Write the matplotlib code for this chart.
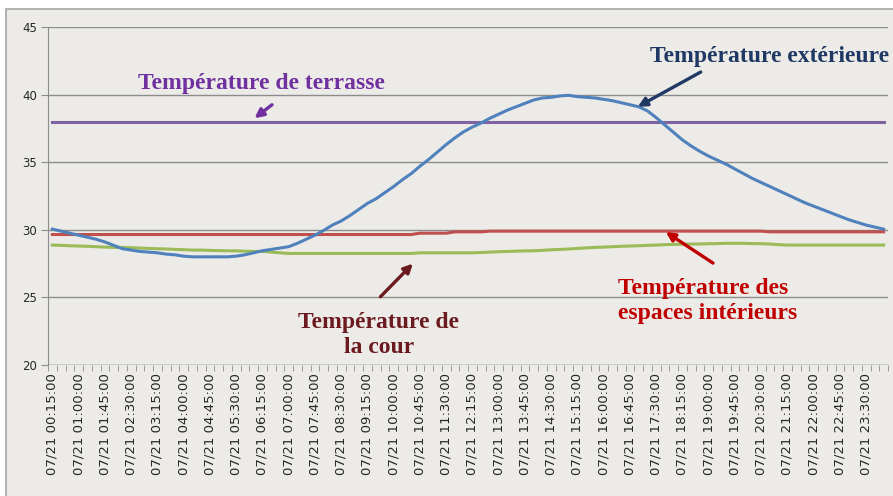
import numpy as np
import matplotlib.pyplot as plt
from matplotlib.patches import Rectangle

# 15-minute readings for 07/21, 00:15 -> 24:00
times = ["07/21 %02d:%02d:00" % divmod(15 * (k + 1), 60) for k in range(96)]

t_exterieure = [30.05, 29.9, 29.75, 29.6, 29.45, 29.3, 29.1, 28.85, 28.6, 28.5,
                28.4, 28.35, 28.3, 28.2, 28.15, 28.05, 28.0, 28.0, 28.0, 28.0,
                28.0, 28.05, 28.15, 28.3, 28.45, 28.55, 28.65, 28.75, 29.0, 29.3,
                29.6, 29.95, 30.35, 30.65, 31.05, 31.5, 31.95, 32.3, 32.75, 33.2,
                33.7, 34.15, 34.7, 35.2, 35.75, 36.3, 36.8, 37.25, 37.6, 37.9,
                38.25, 38.55, 38.85, 39.1, 39.35, 39.6, 39.75, 39.8, 39.9, 39.95,
                39.85, 39.8, 39.75, 39.65, 39.55, 39.4, 39.25, 39.1, 38.8, 38.3,
                37.75, 37.2, 36.65, 36.2, 35.8, 35.45, 35.15, 34.85, 34.5, 34.15,
                33.8, 33.5, 33.2, 32.9, 32.6, 32.3, 32.0, 31.75, 31.5, 31.25,
                31.0, 30.75, 30.55, 30.35, 30.2, 30.05]

t_interieur = [29.65] * 42 + [29.75] * 4 + [29.85] * 4 + [29.9] * 32 + [29.85] * 14

t_cour = [28.87, 28.85, 28.82, 28.8, 28.78, 28.75, 28.72, 28.7, 28.7, 28.68,
          28.65, 28.62, 28.6, 28.58, 28.55, 28.53, 28.5, 28.5, 28.48, 28.46,
          28.45, 28.44, 28.42, 28.4, 28.4, 28.35, 28.3, 28.25, 28.25, 28.25,
          28.25, 28.25, 28.25, 28.25, 28.25, 28.25, 28.25, 28.25, 28.25, 28.25,
          28.25, 28.25, 28.3, 28.3, 28.3, 28.3, 28.3, 28.3, 28.3, 28.32,
          28.35, 28.38, 28.4, 28.42, 28.44, 28.45, 28.48, 28.52, 28.55, 28.58,
          28.62, 28.66, 28.7, 28.72, 28.75, 28.78, 28.8, 28.82, 28.85, 28.87,
          28.9, 28.92, 28.93, 28.95, 28.95, 28.97, 28.98, 29.0, 29.0, 29.0,
          28.98, 28.97, 28.95, 28.9, 28.87, 28.87, 28.87, 28.87, 28.87, 28.87,
          28.87, 28.87, 28.87, 28.87, 28.87, 28.87]

t_terrasse = [38.0] * 96

yticks = [20, 25, 30, 35, 40, 45]

bg = '#edebe7'
fig = plt.figure(figsize=(8.93, 4.96), dpi=100)
fig.patches.append(Rectangle((6 / 893, -0.1), 1.1, 1.1 - 9 / 496, transform=fig.transFigure,
                             facecolor=bg, edgecolor='#a6a6a6', lw=1.2, zorder=-5))
ax = fig.add_axes([48 / 893, 1 - 365 / 496, 840 / 893, 338 / 496])
ax.set_facecolor('none')

x = np.arange(len(times))
ax.plot(x, t_terrasse, color='#7f62a1', lw=2.2)
ax.plot(x, t_interieur, color='#c0504d', lw=2.2)
ax.plot(x, t_cour, color='#9bbb59', lw=2.2)
ax.plot(x, t_exterieure, color='#4f81bd', lw=2.2)

ax.set_xlim(-0.5, len(times) - 0.5)
ax.set_ylim(20, 45)
ax.set_yticks(yticks)
ax.yaxis.grid(True, color='#8c8c8c', lw=1)
ax.set_axisbelow(True)
for s in ['top', 'right', 'bottom']:
    ax.spines[s].set_visible(False)
ax.spines['left'].set_color('#8c8c8c')
ax.axhline(20, color='#8c8c8c', lw=1)
ax.tick_params(axis='y', length=5, color='#8c8c8c', labelsize=8.5, labelcolor='#262626', pad=3)

# category ticks sit between points, labels every 45 min
ax.set_xticks(np.arange(-0.5, len(times), 1), minor=True)
ax.tick_params(axis='x', which='minor', length=4, color='#8c8c8c')
ax.set_xticks(x[::3])
ax.set_xticklabels(times[::3], rotation=90, fontsize=9.5, color='#262626')
ax.tick_params(axis='x', which='major', length=0, pad=6)

serif = dict(family='Liberation Serif', weight='bold', fontsize=17)

def arrow(head, tail, color):
    ax.annotate('', xy=head, xytext=tail,
                arrowprops=dict(arrowstyle='-|>', color=color, lw=2.4, mutation_scale=13,
                                shrinkA=0, shrinkB=0))

ax.text(23.9, 40.85, 'Température de terrasse', ha='center', va='center',
        color='#7030a0', **serif)
arrow((23.1, 38.25), (25.1, 39.25), '#7030a0')

ax.text(82.0, 42.85, 'Température extérieure', ha='center', va='center',
        color='#1f3864', clip_on=False, **serif)
arrow((66.9, 39.1), (74.1, 41.67), '#1f3864')

ax.text(37.3, 22.25, 'Température de\nla cour', ha='center', va='center',
        color='#6b1a1f', linespacing=1.25, **serif)
arrow((41.2, 27.5), (37.5, 25.05), '#6b1a1f')

ax.text(64.6, 24.75, 'Température des\nespaces intérieurs', ha='left', va='center',
        color='#c00000', linespacing=1.25, **serif)
arrow((70.1, 29.84), (75.5, 27.54), '#c00000')

fig.savefig('out.png', dpi=100)
